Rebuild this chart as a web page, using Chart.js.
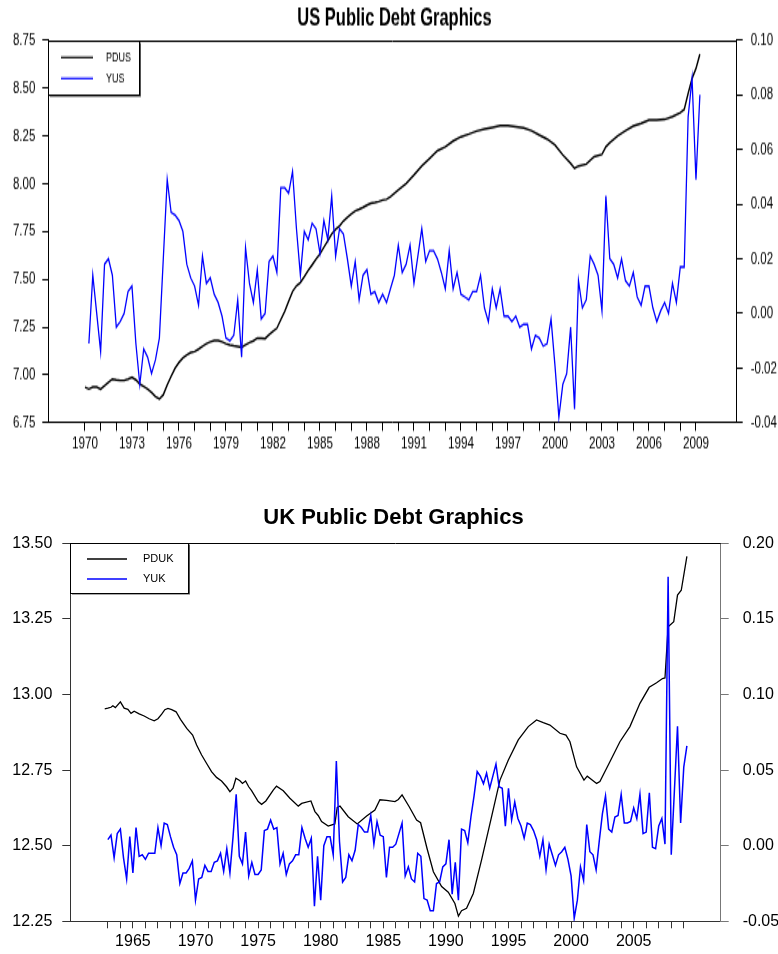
<!DOCTYPE html>
<html>
<head>
<meta charset="utf-8">
<script src="https://cdn.jsdelivr.net/npm/chart.js@4.4.1/dist/chart.umd.min.js"></script>
<style>
  body { margin: 0; background: #fff; }
  canvas { display: block; }
</style>
</head>
<body>
<!-- the US panel is drawn short and stretched tall, like the original export -->
<canvas id="usChart" width="778" height="320" style="width:778px;height:480px"></canvas>
<canvas id="ukChart" width="778" height="474" style="width:778px;height:474px"></canvas>
<script>
// ---------------- US data ----------------
// PDUS (left axis)
const pdusYears = [
  1970.0, 1970.25, 1970.5, 1970.75, 1971.0, 1971.25, 1971.5, 1971.75, 1972.0, 1972.25,
  1972.5, 1972.75, 1973.0, 1973.25, 1973.5, 1973.75, 1974.0, 1974.25, 1974.5, 1974.75,
  1975.0, 1975.25, 1975.5, 1975.75, 1976.0, 1976.25, 1976.5, 1976.75, 1977.0, 1977.25,
  1977.5, 1977.75, 1978.0, 1978.25, 1978.5, 1978.75, 1979.0, 1979.25, 1979.5, 1979.75,
  1980.0, 1980.25, 1980.5, 1980.75, 1981.0, 1981.25, 1981.5, 1981.75, 1982.0, 1982.25,
  1982.5, 1982.75, 1983.0, 1983.25, 1983.5, 1983.75, 1984.0, 1984.25, 1984.5, 1984.75,
  1985.0, 1985.25, 1985.5, 1985.75, 1986.0, 1986.25, 1986.5, 1986.75, 1987.0, 1987.25,
  1987.5, 1987.75, 1988.0, 1988.25, 1988.5, 1988.75, 1989.0, 1989.25,
  1989.5, 1990.0, 1990.5, 1991.0, 1991.5, 1992.0, 1992.5, 1993.0, 1993.5, 1994.0,
  1994.5, 1995.0, 1995.5, 1996.0, 1996.5, 1997.0, 1997.5, 1998.0, 1998.5, 1999.0,
  1999.5, 2000.0, 2000.5, 2001.0, 2001.25, 2001.5, 2002.0, 2002.5, 2003.0, 2003.25,
  2003.5, 2004.0, 2004.5, 2005.0, 2005.5, 2006.0, 2006.5, 2007.0, 2007.5, 2008.0,
  2008.25, 2008.5, 2008.75, 2009.0, 2009.25
];
const pdusValues = [
  6.936, 6.926, 6.936, 6.936, 6.926, 6.943, 6.961, 6.978, 6.974, 6.971,
  6.971, 6.978, 6.987, 6.974, 6.952, 6.940, 6.926, 6.908, 6.887, 6.874,
  6.896, 6.948, 6.992, 7.035, 7.065, 7.088, 7.105, 7.117, 7.122, 7.135,
  7.149, 7.163, 7.173, 7.180, 7.180, 7.173, 7.163, 7.156, 7.152, 7.149,
  7.145, 7.157, 7.169, 7.178, 7.192, 7.192, 7.190, 7.210, 7.227, 7.244,
  7.288, 7.331, 7.384, 7.436, 7.466, 7.483, 7.514, 7.546, 7.575, 7.605,
  7.633, 7.667, 7.702, 7.737, 7.761, 7.779, 7.805, 7.824, 7.841, 7.857,
  7.866, 7.876, 7.888, 7.897, 7.901, 7.906, 7.914, 7.918,
  7.932, 7.967, 8.001, 8.045, 8.092, 8.132, 8.172, 8.193, 8.223, 8.245,
  8.259, 8.275, 8.285, 8.294, 8.303, 8.303, 8.297, 8.292, 8.277, 8.254,
  8.233, 8.202, 8.150, 8.106, 8.080, 8.092, 8.102, 8.141, 8.153, 8.193,
  8.214, 8.249, 8.277, 8.301, 8.315, 8.332, 8.332, 8.336, 8.350, 8.371,
  8.388, 8.472, 8.550, 8.602, 8.677
];
// YUS (right axis), quarterly from 1970Q2
const yusStart = 1970.25;
const yusValues = [
  -0.011, 0.014, 0.000, -0.014, 0.018, 0.020, 0.014, -0.005, -0.003, 0.000,
  0.008, 0.010, -0.011, -0.026, -0.013, -0.016, -0.022, -0.017, -0.009, 0.020,
  0.049, 0.037, 0.036, 0.034, 0.030, 0.018, 0.013, 0.010, 0.003, 0.021,
  0.011, 0.013, 0.007, 0.004, -0.001, -0.009, -0.010, -0.008, 0.005, -0.016,
  0.024, 0.011, 0.004, 0.016, -0.002, 0.000, 0.019, 0.021, 0.015, 0.046,
  0.046, 0.044, 0.052, 0.031, 0.014, 0.030, 0.027, 0.033, 0.031, 0.022,
  0.034, 0.027, 0.043, 0.021, 0.031, 0.029, 0.020, 0.010, 0.019, 0.005,
  0.014, 0.016, 0.007, 0.008, 0.004, 0.007, 0.004,
  0.009, 0.014, 0.025, 0.015, 0.018, 0.025, 0.011, 0.021, 0.031, 0.019,
  0.023, 0.023, 0.020, 0.015, 0.009, 0.023, 0.009, 0.015, 0.007, 0.006,
  0.005, 0.008, 0.008, 0.014, 0.002, -0.003, 0.009, 0.002, 0.009, -0.001,
  -0.001, -0.003, -0.001, -0.005, -0.004, -0.004, -0.013, -0.008, -0.009, -0.012,
  -0.011, -0.002, -0.019, -0.038, -0.026, -0.022, -0.005, -0.035, 0.012, 0.002,
  0.005, 0.021, 0.018, 0.014, 0.001, 0.043, 0.020, 0.018, 0.013, 0.020,
  0.012, 0.010, 0.015, 0.006, 0.003, 0.010, 0.010, 0.002, -0.003, 0.001,
  0.004, 0.000, 0.011, 0.004, 0.017, 0.017, 0.072, 0.086, 0.049, 0.080
];
const usTickLabels = [1970, 1973, 1976, 1979, 1982, 1985, 1988, 1991, 1994, 1997, 2000, 2003, 2006, 2009];

// ---------------- UK data ----------------
const pdukYears = [
  1962.75, 1963.0, 1963.25, 1963.4, 1963.6, 1964.0, 1964.3, 1964.6, 1964.85, 1965.1,
  1965.5, 1965.9, 1966.3, 1966.7, 1967.0, 1967.3, 1967.55, 1967.8, 1968.1, 1968.45,
  1968.8, 1969.3, 1969.77, 1970.09, 1970.49, 1970.89, 1971.28, 1971.68, 1972.08, 1972.48,
  1972.75, 1973.0, 1973.23, 1973.55, 1973.75, 1974.0, 1974.25, 1974.48, 1975.01, 1975.28,
  1975.62, 1976.21, 1976.47, 1977.01, 1977.54, 1978.21, 1978.48, 1979.22, 1979.54, 1979.8,
  1980.07, 1980.6, 1981.13, 1981.32, 1981.54, 1982.2, 1982.92, 1983.67, 1984.33, 1984.73,
  1985.26, 1985.93, 1986.2, 1986.5, 1987.07, 1987.66, 1987.98, 1988.5, 1989.0, 1989.66,
  1990.19, 1990.72, 1991.0, 1991.25, 1991.65, 1992.19, 1992.85, 1993.65, 1994.32, 1994.98,
  1995.78, 1996.58, 1997.24, 1997.78, 1998.31, 1999.11, 1999.59, 1999.91, 2000.44, 2001.03,
  2001.29, 2002.04, 2002.3, 2003.1, 2003.9, 2004.7, 2005.5, 2006.24, 2006.83, 2007.3,
  2007.5, 2007.75, 2008.2, 2008.5, 2008.8, 2009.25
];
const pdukValues = [
  12.953, 12.955, 12.958, 12.963, 12.957, 12.976, 12.955, 12.951, 12.938, 12.945,
  12.936, 12.929, 12.920, 12.913, 12.920, 12.935, 12.950, 12.954, 12.950, 12.943,
  12.918, 12.888, 12.866, 12.833, 12.800, 12.772, 12.745, 12.726, 12.714, 12.695,
  12.679, 12.690, 12.723, 12.715, 12.706, 12.714, 12.695, 12.682, 12.646, 12.637,
  12.648, 12.684, 12.697, 12.682, 12.657, 12.631, 12.640, 12.648, 12.613, 12.600,
  12.580, 12.565, 12.572, 12.627, 12.631, 12.596, 12.572, 12.598, 12.618, 12.652,
  12.650, 12.646, 12.653, 12.668, 12.629, 12.585, 12.576, 12.490, 12.414, 12.365,
  12.346, 12.309, 12.267, 12.285, 12.293, 12.342, 12.453, 12.596, 12.717, 12.783,
  12.850, 12.894, 12.916, 12.907, 12.899, 12.872, 12.866, 12.844, 12.761, 12.717,
  12.730, 12.706, 12.712, 12.778, 12.844, 12.894, 12.971, 13.024, 13.039, 13.053,
  13.055, 13.224, 13.241, 13.329, 13.345, 13.457
];
// YUK (right axis), quarterly from 1963Q1
const yukStart = 1963.0;
const yukValues = [
  0.004, 0.007, -0.008, 0.008, 0.011, -0.008, -0.022, 0.006, -0.018, 0.012,
  -0.007, -0.006, -0.009, -0.005, -0.005, -0.005, 0.012, 0.000, 0.015, 0.014,
  0.006, -0.001, -0.006, -0.025, -0.018, -0.018, -0.015, -0.010, -0.036, -0.022,
  -0.021, -0.013, -0.017, -0.017, -0.011, -0.010, -0.005, -0.017, -0.002, -0.018,
  0.006, 0.034, -0.007, -0.012, 0.009, -0.020, -0.011, -0.019, -0.019, -0.016,
  0.010, 0.011, 0.017, 0.011, 0.012, -0.012, -0.005, -0.019, -0.012, -0.010,
  -0.006, -0.006, 0.012, 0.005, -0.001, 0.005, -0.040, -0.007, -0.036, 0.000,
  0.006, 0.006, -0.006, 0.056, 0.003, -0.024, -0.021, -0.006, -0.010, -0.003,
  0.014, 0.012, 0.009, 0.009, 0.020, 0.001, 0.016, 0.007, 0.006, -0.021,
  -0.001, -0.001, 0.001, 0.008,
  0.015, -0.020, -0.014, -0.022, -0.024, -0.005, -0.007, -0.035, -0.036, -0.043,
  -0.043, -0.025, -0.024, -0.014, -0.012, 0.004, -0.032, -0.011, -0.036, 0.011,
  0.010, 0.002, 0.019, 0.033, 0.049, 0.046, 0.041, 0.048, 0.038, 0.046,
  0.054, 0.039, 0.038, 0.013, 0.038, 0.017, 0.029, 0.018, 0.013, 0.005,
  0.015, 0.014, 0.010, 0.004, -0.007, 0.004, -0.016, 0.001, -0.006, -0.013,
  -0.006, -0.004, -0.001, -0.009, -0.020, -0.048, -0.036, -0.014, -0.023, 0.014,
  -0.004, -0.006, -0.016, 0.003, 0.021, 0.033, 0.011, 0.009, 0.019, 0.020,
  0.034, 0.015, 0.015, 0.016, 0.025, 0.018, 0.034, 0.008, 0.009, 0.035,
  -0.001, -0.002, 0.013, 0.018, 0.001, 0.178, -0.006, 0.036, 0.079, 0.015,
  0.052, 0.066
];
const ukTickLabels = [1965, 1970, 1975, 1980, 1985, 1990, 1995, 2000, 2005];

// ---------------- helpers ----------------
const sans = '"Liberation Sans", Arial, Helvetica, sans-serif';

function pairs(xs, ys) { return ys.map((y, i) => ({ x: xs[i], y: y })); }
function quarterly(start, ys) { return ys.map((y, i) => ({ x: start + i / 4, y: y })); }
function yearRange(a, b) { const out = []; for (let y = a; y <= b; y++) out.push(y); return out; }

// box legend in the top-left corner of the plot
const boxLegend = {
    id: 'boxLegend',
    afterDatasetsDraw(chart, args, o) {
        const ctx = chart.ctx;
        const x = Math.round(chart.chartArea.left), y = Math.round(chart.chartArea.top);
        ctx.save();
        ctx.fillStyle = '#555';
        ctx.fillRect(x + 2, y + 1.5, o.w, o.h);
        ctx.fillStyle = '#fff';
        ctx.fillRect(x, y, o.w, o.h);
        ctx.strokeStyle = '#000';
        ctx.lineWidth = 1;
        ctx.strokeRect(x + 0.5, y + 0.5, o.w, o.h);
        chart.data.datasets.forEach((ds, i) => {
            const ly = y + o.rowTop + i * o.rowGap;
            ctx.strokeStyle = ds.borderColor;
            ctx.lineWidth = o.lineWidth;
            ctx.beginPath();
            ctx.moveTo(x + o.lineFrom, ly);
            ctx.lineTo(x + o.lineTo, ly);
            ctx.stroke();
            ctx.fillStyle = '#000';
            ctx.font = o.font;
            ctx.textBaseline = 'middle';
            ctx.fillText(ds.label, x + o.textX, ly);
        });
        ctx.restore();
    }
};

// top edge of the frame
const topFrame = {
    id: 'topFrame',
    beforeDatasetsDraw(chart, args, o) {
        const a = chart.chartArea, ctx = chart.ctx;
        ctx.save();
        ctx.strokeStyle = o.color;
        ctx.lineWidth = 1;
        ctx.beginPath();
        ctx.moveTo(a.left, Math.round(a.top) + 0.5);
        ctx.lineTo(a.right, Math.round(a.top) + 0.5);
        ctx.stroke();
        ctx.restore();
    }
};

function yAxis(pos, min, max, step, width, o) {
    return {
        type: 'linear', position: pos, min: min, max: max,
        afterFit: s => { s.width = width; },
        grid: { drawOnChartArea: false, drawTicks: true, tickLength: o.tick, color: o.color },
        border: { display: true, color: o.color, width: 1 },
        ticks: { stepSize: step, padding: o.pad, color: '#000', font: o.font, callback: v => v.toFixed(2) }
    };
}

// ---------------- US chart ----------------
new Chart(document.getElementById('usChart'), {
    type: 'line',
    data: {
        datasets: [
            { label: 'PDUS', data: pairs(pdusYears, pdusValues), yAxisID: 'y', borderColor: '#000000', borderWidth: 1.45, order: 1 },
            { label: 'YUS', data: quarterly(yusStart, yusValues), yAxisID: 'y1', borderColor: '#0000ff', borderWidth: 1.3, order: 0 }
        ]
    },
    options: {
        responsive: false,
        animation: false,
        devicePixelRatio: 1,
        parsing: false,
        elements: { point: { radius: 0 }, line: { tension: 0 } },
        layout: { padding: { left: 11, right: 0, top: 0, bottom: 0 } },
        plugins: {
            legend: { display: false },
            tooltip: { enabled: false },
            title: {
                display: true, text: 'US Public Debt Graphics', color: '#000',
                font: { family: sans, size: 16.5, weight: 'bold', lineHeight: 1.2 },
                padding: { top: 3, bottom: 4 }
            },
            boxLegend: { w: 91, h: 36, rowTop: 11.3, rowGap: 14, lineFrom: 13, lineTo: 45, textX: 58, lineWidth: 1.2, font: '9px ' + sans },
            topFrame: { color: '#000' }
        },
        scales: {
            x: {
                type: 'linear', min: 1967.66, max: 2011.6,
                afterBuildTicks: s => { s.ticks = yearRange(1970, 2009).map(v => ({ value: v })); },
                afterFit: s => { s.height = 38.2; },
                grid: { drawOnChartArea: false, drawTicks: true, tickLength: 5.5, color: '#000' },
                border: { display: true, color: '#000', width: 1 },
                ticks: {
                    autoSkip: false, maxRotation: 0, padding: 1, color: '#000',
                    font: { family: sans, size: 11.7 },
                    callback: v => usTickLabels.includes(v) ? String(v) : ''
                }
            },
            y: yAxis('left', 6.75, 8.75, 0.25, 37.3, { tick: 6, pad: 7, color: '#000', font: { family: sans, size: 11.5 } }),
            y1: yAxis('right', -0.04, 0.10, 0.02, 41.3, { tick: 6, pad: 8, color: '#000', font: { family: sans, size: 11.5 } })
        }
    },
    plugins: [boxLegend, topFrame]
});

// ---------------- UK chart ----------------
new Chart(document.getElementById('ukChart'), {
    type: 'line',
    data: {
        datasets: [
            { label: 'PDUK', data: pairs(pdukYears, pdukValues), yAxisID: 'y', borderColor: '#000000', borderWidth: 1.3, order: 1 },
            { label: 'YUK', data: quarterly(yukStart, yukValues), yAxisID: 'y1', borderColor: '#0000ff', borderWidth: 1.5, order: 0 }
        ]
    },
    options: {
        responsive: false,
        animation: false,
        devicePixelRatio: 1,
        parsing: false,
        elements: { point: { radius: 0 }, line: { tension: 0 } },
        layout: { padding: { left: 9, right: 0, top: 0, bottom: 0 } },
        plugins: {
            legend: { display: false },
            tooltip: { enabled: false },
            title: {
                display: true, text: 'UK Public Debt Graphics', color: '#000',
                font: { family: sans, size: 22, weight: 'bold' },
                padding: { top: 25, bottom: 12 }
            },
            boxLegend: { w: 118, h: 50, rowTop: 16, rowGap: 20, lineFrom: 17, lineTo: 57, textX: 73, lineWidth: 1.5, font: '11px ' + sans },
            topFrame: { color: '#000' }
        },
        scales: {
            x: {
                type: 'linear', min: 1960, max: 2011.95,
                afterBuildTicks: s => { s.ticks = yearRange(1963, 2009).map(v => ({ value: v })); },
                afterFit: s => { s.height = 32.7; },
                grid: { drawOnChartArea: false, drawTicks: true, tickLength: 7, color: '#333' },
                border: { display: true, color: '#333', width: 1 },
                ticks: {
                    autoSkip: false, maxRotation: 0, padding: 4, color: '#000',
                    font: { family: sans, size: 16 },
                    callback: v => ukTickLabels.includes(v) ? String(v) : ''
                }
            },
            y: yAxis('left', 12.25, 13.50, 0.25, 61.3, { tick: 8, pad: 10, color: '#333', font: { family: sans, size: 16 } }),
            y1: yAxis('right', -0.05, 0.20, 0.05, 57.3, { tick: 8, pad: 14, color: '#777', font: { family: sans, size: 16 } })
        }
    },
    plugins: [boxLegend, topFrame]
});
</script>
</body>
</html>
